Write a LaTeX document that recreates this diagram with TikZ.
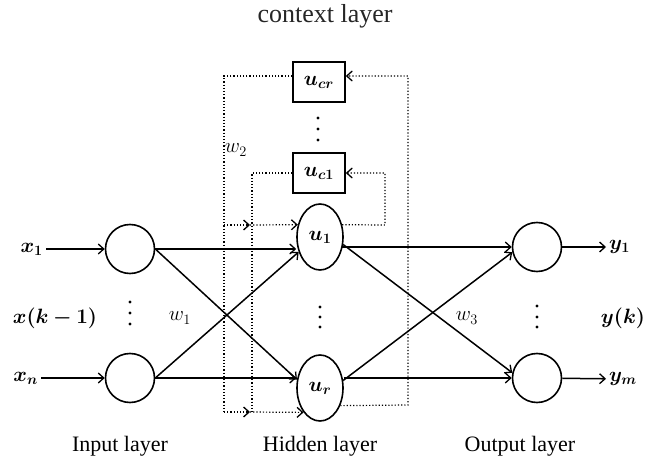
\documentclass[tikz,border=0pt]{standalone}
\usepackage{fontspec}
\setmainfont{Liberation Serif}
\usepackage{bm}
\usetikzlibrary{arrows.meta,shapes.geometric}

\begin{document}
\begin{tikzpicture}[x=1pt,y=-1pt,
  font=\fontsize{20}{24}\selectfont,
  neuron/.style={circle,draw,line width=1.6pt,minimum size=49pt,inner sep=0pt},
  hidunit/.style={ellipse,draw,line width=1.6pt,minimum width=46pt,minimum height=66pt,inner sep=0pt},
  ctxunit/.style={rectangle,draw,line width=1.6pt,minimum width=52pt,minimum height=40pt,inner sep=0pt},
  lab/.style={inner sep=3pt},
  layername/.style={font=\fontsize{22}{26}\selectfont},
  wire/.style={line width=1.5pt},
  arr/.style={-{Straight Barb[length=5.5pt,width=10pt,line width=1.3pt]}},
  fb/.style={dotted,line width=1.2pt},
  dot/.style={fill=black}]
\useasboundingbox (0,0) rectangle (654,457);

% title
\node[font=\fontsize{26}{30}\selectfont,text=black!85] (title) at (325,16) {context layer};

% units
\node[neuron] (in1) at (130,249) {};
\node[neuron] (inn) at (130,378) {};
\node[hidunit] (h1) at (320,237) {$\bm{u_1}$};
\node[hidunit] (hr) at (320,388) {$\bm{u_r}$};
\node[neuron] (out1) at (537,247) {};
\node[neuron] (outm) at (537,378) {};
\node[ctxunit] (ccr) at (319,82) {$\bm{u_{cr}}$};
\node[ctxunit] (cc1) at (319,173) {$\bm{u_{c1}}$};

% signal labels
\node[lab,anchor=east] (x1) at (46,249) {$\bm{x_1}$};
\node[lab,anchor=east] (xn) at (41,378) {$\bm{x_n}$};
\node[lab] (xk) at (55,318) {$\bm{x(k-1)}$};
\node[lab,anchor=west] (y1) at (606,247) {$\bm{y_1}$};
\node[lab,anchor=west] (ym) at (606,379) {$\bm{y_m}$};
\node[lab] (yk) at (623,318) {$\bm{y(k)}$};
\node[lab] (w1) at (180,318) {$w_1$};
\node[lab] (w2) at (236,150) {$w_2$};
\node[lab] (w3) at (467,318) {$w_3$};

% layer names
\node[layername] (nin) at (120,446) {Input layer};
\node[layername] (nhid) at (320,446) {Hidden layer};
\node[layername] (nout) at (520,446) {Output layer};

% vertical ellipses
\foreach \y in {302,313,324} \fill[dot] (130,\y) circle (1.7pt);
\foreach \y in {307,317,327} \fill[dot] (320,\y) circle (1.7pt);
\foreach \y in {306,317,327} \fill[dot] (537,\y) circle (1.7pt);
\foreach \y in {118,129,140} \fill[dot] (318,\y) circle (1.7pt);

% inputs and outputs
\draw[wire,arr] (x1) -- (in1);
\draw[wire,arr] (xn) -- (inn);
\draw[wire,arr] (out1) -- (y1);
\draw[wire,arr] (outm) -- (ym);

% input -> hidden
\draw[wire,arr] (in1.east) -- (h1.west |- in1.east);
\draw[wire,arr] (in1.east) -- (hr.160);
\draw[wire,arr] (inn.east) -- (h1.215);
\draw[wire,arr] (inn.east) -- (hr.west |- inn.east);

% hidden -> output
\draw[wire,arr,shorten <=-2pt] (h1.east |- out1.west) -- (out1.west);
\draw[wire,arr] (h1.-18) -- (outm.168);
\draw[wire,arr] (hr.18) -- (out1.192);
\draw[wire,arr] (hr.east |- outm.west) -- (outm.west);

% context feedback paths
\coordinate (oLt) at (224,76);
\coordinate (oLb) at (224,412);
\coordinate (iLt) at (252,173);
\coordinate (iLb) at (252,412);
\coordinate (rowT) at (224,225);
\coordinate (midT) at (250,225);
\coordinate (midB) at (250,412);
\coordinate (iRt) at (385,173);
\coordinate (iRb) at (385,225);
\coordinate (oRt) at (408,76);
\coordinate (oRb) at (408,405);

\draw[fb] ([yshift=6pt]ccr.west) -- (oLt) -- (oLb);
\draw[fb] (cc1.west) -- (iLt) -- (iLb);
\draw[fb,arr] (rowT) -- (midT);
\draw[fb,arr] (midT) -- (h1.151);
\draw[fb,arr] (oLb) -- (midB);
\draw[fb,arr] (midB) -- (hr.236);
\draw[fb,arr] (h1.29) -- (iRb) -- (iRt) -- (cc1.east);
\draw[fb,arr] (hr.-41) -- (oRb) -- (oRt) -- ([yshift=6pt]ccr.east);
\end{tikzpicture}
\end{document}
